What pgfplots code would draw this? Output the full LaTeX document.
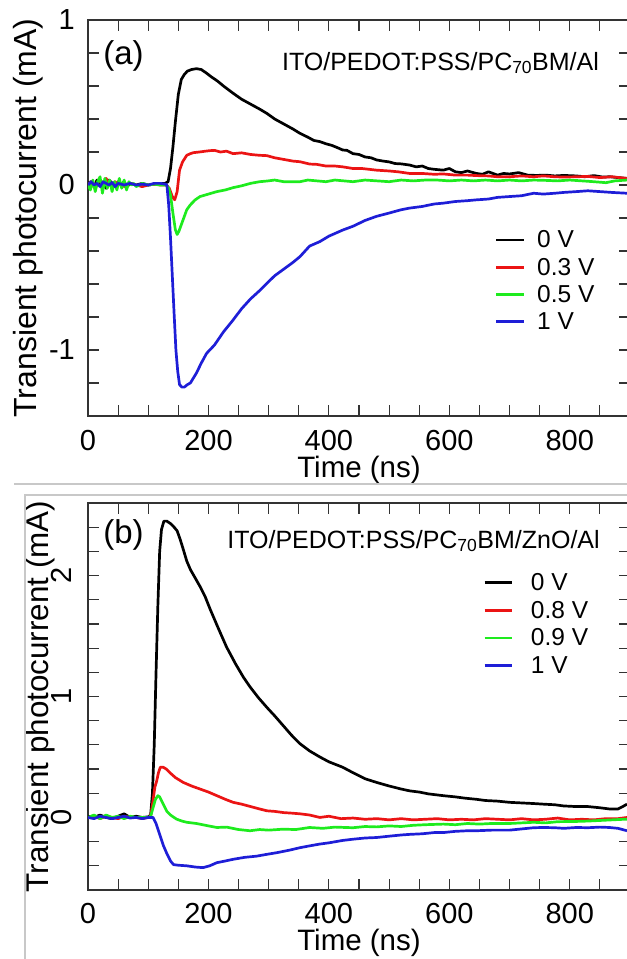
\documentclass[border=0pt]{standalone}
\usepackage{fontspec}
\setmainfont{Liberation Sans}
\usepackage{pgfplots}
\pgfplotsset{compat=1.18}
\definecolor{cred}{RGB}{235,20,20}
\definecolor{cgreen}{RGB}{30,235,30}
\definecolor{cblue}{RGB}{30,30,215}
\definecolor{sepgrey}{RGB}{200,200,200}
\newcommand{\tickfont}{\fontsize{29bp}{31bp}\selectfont}
\newcommand{\labfont}{\fontsize{29.5bp}{32bp}\selectfont}
\newcommand{\ylabfonta}{\fontsize{32bp}{34bp}\selectfont}
\newcommand{\ylabfontb}{\fontsize{31.4bp}{34bp}\selectfont}
\newcommand{\legfont}{\fontsize{24.5bp}{27bp}\selectfont}
\newcommand{\annfont}{\fontsize{25bp}{27bp}\selectfont}
\newcommand{\panfont}{\fontsize{33bp}{36bp}\selectfont}
\pgfplotsset{myaxis/.style={
  scale only axis, width=542bp, xmin=0, xmax=900,
  axis line style={line width=1.4bp, black!80},
  tick style={line width=1.2bp, black!80},
  major tick length=11bp, minor tick length=11bp,
  tick align=inside,
  xtick={0,200,400,600,800}, xticklabels={0,200,400,600,800},
  minor xtick={50,100,150,250,300,350,450,500,550,650,700,750,850,900},
  ticklabel style={font=\tickfont},
  xlabel style={font=\labfont},
  xlabel={Time (ns)},
  ylabel={Transient photocurrent (mA)},
  legend cell align=left,
  legend image code/.code={\draw[#1] (0bp,0bp) -- (27.5bp,0bp);},
  every axis plot/.append style={line width=2.7bp, line join=round},
}}
\begin{document}
\begin{tikzpicture}
\useasboundingbox (0,0) rectangle (627bp,-959bp);
% ---------------- panel (a) ----------------
\begin{axis}[myaxis,
  at={(88bp,-20bp)}, anchor=north west, height=396bp,
  ymin=-1.4, ymax=1,
  ytick={-1,0,1}, yticklabels={-1,0,1},
  minor ytick={-1.2,-0.8,-0.6,-0.4,-0.2,0.2,0.4,0.6,0.8},
  xticklabel style={anchor=base, inner sep=0pt, yshift=-34.5bp},
  yticklabel style={anchor=east, inner sep=0pt, xshift=-13bp},
  xlabel style={at={(axis description cs:0.5,-0.135)}, anchor=center},
  ylabel style={font=\ylabfonta, at={(axis description cs:-0.1107,0.5)}, anchor=center},
  legend style={draw=none, fill=none, inner sep=0pt, outer sep=0pt,
    at={(0.751,0.468)}, anchor=north west, row sep=8.7bp, column sep=12bp,
    nodes={inner sep=0pt, font=\legfont}},
]
\addplot[black] coordinates {(0,0.01) (5,0.02) (10,-0.01) (15,0.03) (20,0.0) (25,0.02) (30,-0.02) (35,0.03) (40,0.01) (45,-0.01) (50,0.02) (55,0.0) (60,0.02) (65,-0.01) (70,0.01) (80,0.0) (90,0.01) (100,0.0) (110,0.005) (120,0.01) (128,0.01) (133,0.02) (137,0.1) (141,0.23) (145,0.38) (150,0.55) (155,0.64) (160,0.67) (165,0.69) (172,0.70) (180,0.705) (188,0.70) (196,0.68) (205,0.655) (215,0.63) (225,0.60) (241,0.556) (255,0.52) (270,0.49) (285,0.46) (297,0.434) (310,0.40) (325,0.37) (340,0.34) (352,0.313) (365,0.29) (375,0.27) (385,0.263) (395,0.25) (405,0.24) (415,0.225) (423,0.212) (430,0.21) (440,0.19) (450,0.185) (460,0.17) (470,0.165) (479,0.152) (490,0.145) (500,0.14) (510,0.13) (520,0.128) (534,0.121) (545,0.11) (555,0.115) (565,0.1) (575,0.095) (590,0.09) (600,0.1) (610,0.08) (620,0.075) (630,0.085) (645,0.07) (655,0.065) (665,0.08) (680,0.06) (690,0.07) (700,0.067) (715,0.075) (730,0.06) (745,0.058) (760,0.06) (775,0.055) (790,0.058) (811,0.055) (825,0.05) (840,0.057) (855,0.048) (866,0.05) (880,0.045) (895,0.04)};
\addlegendentry{0 V}
\addplot[cred] coordinates {(0,0.0) (5,0.02) (10,-0.01) (15,0.01) (20,0.03) (25,0.0) (30,0.04) (35,0.01) (40,-0.01) (45,0.02) (50,0.0) (55,0.01) (60,-0.01) (70,0.01) (80,0.0) (90,-0.01) (100,0.0) (110,0.005) (120,0.0) (130,0.0) (135,-0.02) (140,-0.07) (144,-0.09) (148,-0.04) (152,0.09) (157,0.14) (164,0.18) (170,0.19) (175,0.196) (185,0.20) (195,0.205) (202,0.208) (210,0.21) (220,0.2) (230,0.205) (241,0.19) (255,0.195) (270,0.185) (285,0.18) (297,0.178) (310,0.165) (325,0.155) (340,0.145) (352,0.141) (368,0.127) (380,0.125) (395,0.115) (410,0.115) (423,0.11) (440,0.1) (455,0.1) (479,0.09) (500,0.085) (515,0.08) (534,0.07) (555,0.07) (575,0.065) (590,0.067) (610,0.06) (630,0.06) (645,0.057) (665,0.055) (680,0.05) (700,0.05) (720,0.055) (740,0.05) (756,0.055) (775,0.05) (790,0.048) (811,0.05) (830,0.052) (850,0.045) (870,0.05) (895,0.04)};
\addlegendentry{0.3 V}
\addplot[cgreen] coordinates {(0,0.0) (4,-0.03) (8,0.03) (12,-0.04) (16,0.02) (20,0.05) (24,-0.05) (28,0.04) (32,-0.02) (36,0.03) (40,-0.04) (44,0.02) (48,-0.03) (52,0.04) (56,-0.02) (60,0.03) (64,-0.03) (68,0.02) (72,0.0) (76,0.01) (80,-0.01) (90,0.01) (100,0.0) (110,0.005) (120,0.0) (130,0.0) (134,-0.02) (137,-0.06) (141,-0.17) (145,-0.27) (148,-0.30) (151,-0.28) (155,-0.24) (160,-0.19) (164,-0.15) (170,-0.12) (178,-0.09) (186,-0.07) (200,-0.055) (214,-0.04) (228,-0.03) (241,-0.016) (255,-0.005) (270,0.01) (285,0.02) (297,0.024) (310,0.03) (325,0.02) (340,0.02) (352,0.02) (365,0.03) (380,0.025) (395,0.02) (410,0.03) (425,0.025) (440,0.02) (460,0.03) (480,0.025) (500,0.02) (520,0.03) (540,0.025) (560,0.03) (580,0.03) (600,0.025) (620,0.03) (640,0.025) (660,0.03) (680,0.025) (700,0.03) (720,0.025) (740,0.03) (760,0.028) (780,0.025) (800,0.03) (820,0.025) (840,0.02) (860,0.014) (875,0.025) (895,0.03)};
\addlegendentry{0.5 V}
\addplot[cblue] coordinates {(0,0.0) (5,0.02) (10,0.0) (15,0.01) (20,-0.01) (25,0.02) (30,0.01) (35,0.0) (40,0.015) (45,-0.01) (50,0.01) (60,0.0) (70,0.01) (80,0.0) (90,0.005) (100,0.0) (110,0.01) (120,0.01) (128,0.005) (131,0.0) (134,-0.12) (137,-0.32) (140,-0.55) (143,-0.78) (146,-1.0) (149,-1.13) (152,-1.21) (156,-1.225) (160,-1.225) (165,-1.21) (170,-1.2) (175,-1.17) (180,-1.14) (188,-1.08) (197,-1.02) (210,-0.97) (225,-0.89) (241,-0.818) (255,-0.75) (270,-0.69) (285,-0.64) (297,-0.596) (310,-0.55) (325,-0.51) (340,-0.47) (352,-0.434) (368,-0.37) (385,-0.343) (400,-0.31) (423,-0.273) (440,-0.25) (460,-0.215) (479,-0.19) (500,-0.17) (520,-0.15) (534,-0.14) (555,-0.13) (575,-0.115) (590,-0.11) (610,-0.1) (630,-0.095) (645,-0.09) (665,-0.085) (680,-0.075) (700,-0.07) (720,-0.065) (740,-0.05) (756,-0.055) (775,-0.05) (790,-0.045) (811,-0.04) (830,-0.035) (850,-0.04) (870,-0.045) (895,-0.05)};
\addlegendentry{1 V}
\end{axis}
% ---------------- panel (b) ----------------
\begin{axis}[myaxis,
  at={(88bp,-503bp)}, anchor=north west, height=387bp,
  ymin=-0.6, ymax=2.6,
  ytick={0,1,2}, yticklabels={0,1,2},
  minor ytick={-0.4,-0.2,0.2,0.4,0.6,0.8,1.2,1.4,1.6,1.8,2.2,2.4},
  xticklabel style={anchor=base, inner sep=0pt, yshift=-33.5bp},
  yticklabel style={inner sep=0pt, xshift=-16bp, rotate=90, anchor=base},
  xlabel style={at={(axis description cs:0.5,-0.137)}, anchor=center},
  ylabel style={font=\ylabfontb, at={(axis description cs:-0.0886,0.5)}, anchor=center},
  legend style={draw=none, fill=none, inner sep=0pt, outer sep=0pt,
    at={(0.7293,0.8186)}, anchor=north west, row sep=9.1bp, column sep=17.5bp,
    nodes={inner sep=0pt, font=\legfont}},
]
\addplot[black] coordinates {(0,0.01) (10,0.0) (20,0.02) (30,0.0) (40,-0.01) (50,0.01) (60,0.03) (70,0.0) (80,0.01) (90,0.0) (100,0.005) (104,0.02) (107,0.2) (110,0.6) (113,1.2) (116,1.75) (119,2.2) (122,2.38) (126,2.45) (131,2.45) (137,2.43) (143,2.40) (148,2.37) (153,2.30) (158,2.22) (164,2.12) (170,2.05) (178,1.98) (186,1.91) (195,1.82) (203,1.72) (215,1.58) (230,1.41) (245,1.27) (258,1.16) (269,1.08) (283,0.99) (297,0.91) (310,0.84) (324,0.76) (338,0.68) (352,0.61) (368,0.55) (385,0.50) (400,0.46) (423,0.415) (440,0.37) (460,0.32) (479,0.29) (500,0.26) (520,0.235) (534,0.22) (550,0.21) (565,0.195) (590,0.18) (610,0.17) (625,0.16) (645,0.15) (660,0.14) (680,0.135) (700,0.125) (720,0.12) (740,0.115) (756,0.11) (775,0.105) (790,0.095) (811,0.09) (830,0.09) (850,0.08) (866,0.07) (880,0.07) (888,0.09) (895,0.11)};
\addlegendentry{0 V}
\addplot[cred] coordinates {(0,0.0) (10,0.01) (20,-0.01) (30,0.01) (40,0.0) (50,-0.01) (60,0.01) (70,0.0) (80,0.0) (90,-0.01) (100,0.0) (104,0.01) (108,0.14) (111,0.25) (114,0.30) (117,0.37) (120,0.415) (125,0.415) (130,0.40) (136,0.37) (145,0.33) (158,0.29) (172,0.26) (186,0.235) (200,0.21) (214,0.18) (228,0.15) (241,0.125) (255,0.11) (270,0.09) (285,0.07) (297,0.055) (310,0.05) (325,0.04) (340,0.035) (352,0.03) (368,0.02) (385,0.0) (400,0.01) (420,-0.01) (440,-0.005) (460,-0.015) (480,-0.01) (500,-0.02) (520,-0.01) (540,-0.02) (560,-0.015) (580,-0.01) (600,-0.02) (620,-0.015) (640,-0.02) (660,-0.01) (680,-0.015) (700,-0.02) (720,-0.01) (740,-0.02) (760,-0.015) (780,-0.005) (800,-0.02) (820,-0.015) (840,-0.02) (860,-0.01) (880,-0.01) (895,0.0)};
\addlegendentry{0.8 V}
\addplot[cgreen] coordinates {(0,0.0) (10,0.02) (20,-0.01) (30,0.02) (40,0.0) (50,0.01) (60,-0.01) (70,0.01) (80,0.0) (90,0.0) (100,0.0) (104,0.01) (108,0.08) (112,0.15) (116,0.18) (119,0.17) (123,0.13) (127,0.09) (131,0.05) (137,0.02) (147,-0.014) (156,-0.03) (164,-0.04) (180,-0.05) (200,-0.07) (214,-0.083) (230,-0.08) (250,-0.1) (269,-0.11) (285,-0.1) (300,-0.105) (324,-0.097) (345,-0.1) (368,-0.083) (390,-0.09) (410,-0.08) (440,-0.085) (460,-0.075) (479,-0.078) (500,-0.07) (520,-0.075) (540,-0.065) (560,-0.06) (590,-0.055) (610,-0.06) (630,-0.05) (650,-0.055) (670,-0.05) (700,-0.05) (720,-0.045) (740,-0.04) (760,-0.045) (780,-0.035) (811,-0.033) (830,-0.03) (850,-0.025) (870,-0.02) (895,-0.014)};
\addlegendentry{0.9 V}
\addplot[cblue] coordinates {(0,0.0) (10,-0.01) (20,0.01) (30,0.0) (40,-0.01) (50,0.0) (60,0.01) (70,-0.005) (80,0.0) (90,-0.01) (100,0.0) (108,0.0) (113,-0.05) (119,-0.14) (125,-0.23) (131,-0.30) (137,-0.36) (142,-0.39) (150,-0.395) (164,-0.40) (178,-0.41) (191,-0.415) (202,-0.40) (214,-0.374) (228,-0.36) (241,-0.346) (260,-0.33) (280,-0.32) (297,-0.305) (315,-0.29) (335,-0.27) (352,-0.25) (368,-0.235) (385,-0.22) (400,-0.21) (423,-0.19) (440,-0.18) (460,-0.17) (479,-0.166) (500,-0.155) (520,-0.145) (534,-0.14) (555,-0.135) (575,-0.125) (590,-0.125) (610,-0.115) (630,-0.11) (645,-0.11) (670,-0.105) (700,-0.105) (720,-0.095) (740,-0.085) (756,-0.083) (775,-0.085) (790,-0.09) (811,-0.083) (830,-0.085) (850,-0.08) (866,-0.083) (880,-0.09) (895,-0.11)};
\addlegendentry{1 V}
\end{axis}
% annotations
\node[font=\panfont, inner sep=0pt] at (123.5bp,-56bp) {(a)};
\node[font=\panfont, inner sep=0pt] at (123.5bp,-535bp) {(b)};
\node[font=\annfont, inner sep=0pt, anchor=base] at (440.5bp,-70bp) {ITO/PEDOT:PSS/PC\textsubscript{70}BM/Al};
\node[font=\annfont, inner sep=0pt, anchor=base] at (413.5bp,-548bp) {ITO/PEDOT:PSS/PC\textsubscript{70}BM/ZnO/Al};
% separator lines of the composed figure
\draw[sepgrey, line width=1.2bp] (14bp,-484bp) -- (627bp,-484bp);
\draw[sepgrey, line width=1.2bp] (25bp,-959bp) -- (25bp,-495bp) -- (627bp,-495bp);
\end{tikzpicture}
\end{document}
